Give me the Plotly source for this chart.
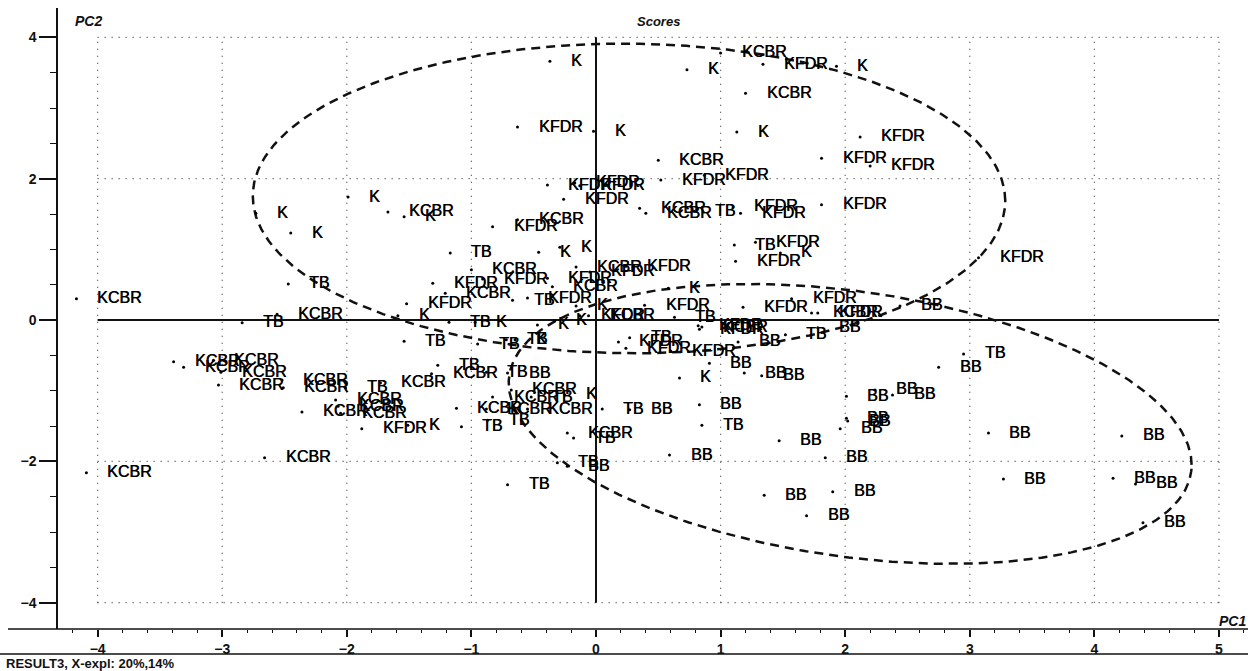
import numpy as np
import plotly.graph_objects as go

# PCA scores (PC1, PC2) per sample group
k_pc1 = [-0.37, 0.73, 1.93, -0.02, 1.13, 1.48, -2.73, -2.45, -1.99, -1.54, -0.46, -0.29,
         0.58, -0.16, -0.33, -0.47, -0.97, -0.65, -1.59, -0.25, 0.67, -1.51]
k_pc2 = [3.66, 3.54, 3.59, 2.67, 2.66, 0.95, 1.51, 1.23, 1.74, 1.46, 0.96, 1.03,
         0.45, 0.20, -0.01, -0.07, -0.03, -0.28, 0.06, -1.06, -0.82, -1.49]

kfdr_pc1 = [1.34, -0.63, 2.12, 1.81, 2.20, 0.52, 0.87, 1.81, 1.10, 1.16, -0.39, -0.26,
            -0.17, -0.13, 3.07, 1.28, 1.12, 0.24, -0.05, -0.83, -1.31, -0.91, -1.52, -0.55,
            -0.39, -0.13, 0.39, 1.18, 1.57, 1.78, 0.18, 0.24, 0.60, 0.82, 0.83, -1.88]
kfdr_pc2 = [3.62, 2.73, 2.59, 2.29, 2.18, 1.98, 2.05, 1.63, 1.60, 1.51, 1.91, 1.71,
            1.94, 1.90, 0.88, 1.10, 0.83, 0.76, 0.68, 1.32, 0.52, 0.58, 0.23, 0.31,
            0.59, 0.06, 0.21, 0.18, 0.30, 0.10, -0.31, -0.40, -0.44, -0.08, -0.13, -1.54]

kcbr_pc1 = [1.00, 1.20, 0.50, 0.35, 0.40, -0.63, -1.67, -0.16, -1.00, -1.21, -0.35, -2.56,
            -4.17, -0.06, 1.73, 0.85, -4.09, -2.66, -3.39, -3.31, -3.07, -3.01, -3.03, -2.52,
            -2.51, -2.09, -2.07, -2.36, -2.05, -1.73, -1.32, -1.12, -0.88, -0.55, -0.68, -0.83,
            -0.23]
kcbr_pc2 = [3.78, 3.21, 2.26, 1.58, 1.51, 1.42, 1.53, 0.75, 0.71, 0.38, 0.47, 0.08,
            0.30, 0.06, 0.10, -0.10, -2.16, -1.95, -0.59, -0.67, -0.57, -0.74, -0.92, -0.85,
            -0.96, -1.13, -1.22, -1.30, -1.32, -0.89, -0.76, -1.25, -1.26, -1.26, -0.99, -1.09,
            -1.60]

tb_pc1 = [0.79, 1.11, -1.17, -2.47, -2.84, -0.67, -1.18, -0.72, -0.95, -1.54, -1.27, -0.88,
          -2.01, -0.52, -1.08, -0.87, 0.05, -0.18, -0.31, -0.71, 0.63, 0.27, 1.52, 2.95, 0.85]
tb_pc2 = [1.54, 1.06, 0.95, 0.51, -0.04, 0.28, -0.03, -0.28, -0.34, -0.30, -0.64, -0.74,
          -0.96, -1.09, -1.51, -1.42, -1.26, -1.67, -2.02, -2.33, 0.04, -0.25, -0.21, -0.48, -1.49]

bb_pc1 = [2.44, 1.78, 1.14, 0.91, 1.19, 1.33, 2.75, 2.01, 2.24, 2.38, 2.01, 2.02,
          1.96, 3.15, 4.22, 1.84, 1.47, 0.59, 1.90, 1.35, 1.69, 3.27, 4.15, 4.33,
          4.39, 0.83, 0.27, -0.71, -0.23]
bb_pc2 = [0.20, -0.11, -0.31, -0.61, -0.75, -0.79, -0.67, -1.08, -0.99, -1.06, -1.39, -1.43,
          -1.54, -1.60, -1.64, -1.95, -1.71, -1.91, -2.43, -2.48, -2.77, -2.25, -2.24, -2.32,
          -2.87, -1.20, -1.27, -0.75, -2.07]

groups = [("K", k_pc1, k_pc2), ("KFDR", kfdr_pc1, kfdr_pc2), ("KCBR", kcbr_pc1, kcbr_pc2),
          ("TB", tb_pc1, tb_pc2), ("BB", bb_pc1, bb_pc2)]

# Confidence ellipses: centre and 2x2 covariance in score units
upper_center = [0.265, 1.72]
upper_cov = [[9.12, -0.10], [-0.10, 4.80]]
lower_center = [2.04, -1.47]
lower_cov = [[7.51, -1.59], [-1.59, 3.92]]

x_ticks = [-4, -3, -2, -1, 0, 1, 2, 3, 4, 5]
y_ticks = [-4, -2, 0, 2, 4]
grid_x = [-4, -3, -2, -1, 1, 2, 3, 4, 5]
grid_y = [-4, -2, 2, 4]
box_x = [-4, 5]
box_y = [-4, 4]

x_range = [-4.318, 5.233]
y_range = [-4.372, 4.415]

FONT = "Liberation Sans, Arial, sans-serif"

fig = go.Figure()

# dotted grid and solid zero lines inside the score box
shapes = []
for gx in grid_x:
    shapes.append(dict(type="line", xref="x", yref="y", x0=gx, x1=gx, y0=box_y[0], y1=box_y[1],
                       line=dict(color="#444", width=1.2, dash="1px,6px"), layer="below"))
for gy in grid_y:
    shapes.append(dict(type="line", xref="x", yref="y", x0=box_x[0], x1=box_x[1], y0=gy, y1=gy,
                       line=dict(color="#444", width=1.2, dash="1px,6px"), layer="below"))
shapes.append(dict(type="line", xref="x", yref="y", x0=box_x[0], x1=box_x[1], y0=0, y1=0,
                   line=dict(color="#111", width=2), layer="below"))
shapes.append(dict(type="line", xref="x", yref="y", x0=0, x1=0, y0=box_y[0], y1=box_y[1],
                   line=dict(color="#111", width=2), layer="below"))

# bottom axis rule extended to the left edge, and the footer rule
plot_w = 1248 - 58
plot_h = 629 - 8
shapes.append(dict(type="line", xref="paper", yref="paper", x0=-50 / plot_w, x1=1, y0=0, y1=0,
                   line=dict(color="#111", width=1.5)))
shapes.append(dict(type="line", xref="paper", yref="paper", x0=-58 / plot_w, x1=1,
                   y0=-25 / plot_h, y1=-25 / plot_h, line=dict(color="#111", width=1.5)))

# ellipses
t = np.linspace(0, 2 * np.pi, 400)
for c, cov in [(upper_center, upper_cov), (lower_center, lower_cov)]:
    L = np.linalg.cholesky(np.array(cov))
    pts = L @ np.vstack([np.cos(t), np.sin(t)])
    fig.add_trace(go.Scatter(x=pts[0] + c[0], y=pts[1] + c[1], mode="lines",
                             line=dict(color="#111", width=2.5, dash="9px,6px"),
                             hoverinfo="skip", showlegend=False))

annotations = []
for name, xs, ys in groups:
    fig.add_trace(go.Scatter(x=xs, y=ys, mode="markers", name=name,
                             marker=dict(size=3, color="#000"), showlegend=False))
    for x, y in zip(xs, ys):
        annotations.append(dict(x=x, y=y, xref="x", yref="y", text=name, showarrow=False,
                                xanchor="left", yanchor="middle", xshift=19, yshift=1,
                                font=dict(family=FONT, size=16, color="#000",
                                          shadow="0.5px 0px 0px #000")))

annotations += [
    dict(x=30 / plot_w, y=1 - 13 / plot_h, xref="paper", yref="paper", text="<b><i>PC2</i></b>",
         showarrow=False, xanchor="center", yanchor="middle",
         font=dict(family=FONT, size=14, color="#111")),
    dict(x=600 / plot_w, y=1 - 14 / plot_h, xref="paper", yref="paper", text="<b><i>Scores</i></b>",
         showarrow=False, xanchor="center", yanchor="middle",
         font=dict(family=FONT, size=13, color="#111")),
    dict(x=1, y=8 / plot_h, xref="paper", yref="paper", text="<b><i>PC1</i></b>",
         showarrow=False, xanchor="right", yanchor="middle",
         font=dict(family=FONT, size=14, color="#111")),
    dict(x=-54 / plot_w, y=-34 / plot_h, xref="paper", yref="paper",
         text="<b>RESULT3, X-expl: 20%,14%</b>", showarrow=False, xanchor="left", yanchor="middle",
         font=dict(family=FONT, size=13, color="#111")),
]

fig.update_layout(
    width=1248, height=671,
    margin=dict(l=58, r=0, t=8, b=42, pad=0),
    paper_bgcolor="white", plot_bgcolor="white",
    shapes=shapes, annotations=annotations,
    xaxis=dict(range=x_range, tickvals=x_ticks, ticks="outside", ticklen=7, tickwidth=1.5,
               tickcolor="#111", showgrid=False, zeroline=False, showline=False,
               tickfont=dict(family=FONT, size=14, color="#111", weight="bold"),
               minor=dict(dtick=0.2, ticks="outside", ticklen=3, tickcolor="#111", tickwidth=1),
               fixedrange=True),
    yaxis=dict(range=y_range, tickvals=y_ticks, ticks="outside", ticklen=17, tickwidth=1.5,
               tickcolor="#111", showgrid=False, zeroline=False, showline=True,
               linecolor="#111", linewidth=1.5,
               tickfont=dict(family=FONT, size=14, color="#111", weight="bold"),
               minor=dict(dtick=0.5, ticks="outside", ticklen=6, tickcolor="#111", tickwidth=1),
               fixedrange=True),
    showlegend=False,
)

fig.write_html("out.html")
